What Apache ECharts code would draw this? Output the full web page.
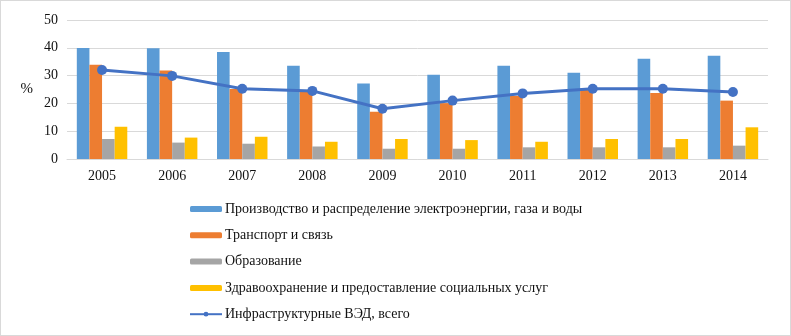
<!DOCTYPE html>
<html>
<head>
<meta charset="utf-8">
<script src="https://cdn.jsdelivr.net/npm/echarts@6/dist/echarts.min.js"></script>
<style>
    html, body { margin: 0; padding: 0; background: #fff; }
    #chart { width: 791px; height: 336px; box-sizing: border-box; border: 1px solid #d9d9d9; }
</style>
</head>
<body>
<div id="chart"></div>
<script>
var years = ['2005', '2006', '2007', '2008', '2009', '2010', '2011', '2012', '2013', '2014'];
var energy = [39.9, 39.8, 38.5, 33.5, 27.2, 30.3, 33.5, 31.0, 36.1, 37.1];
var transport = [33.9, 31.8, 25.2, 24.1, 17.0, 20.1, 22.7, 25.2, 23.7, 21.0];
var education = [7.2, 5.9, 5.5, 4.5, 3.7, 3.7, 4.2, 4.2, 4.2, 4.8];
var health = [11.6, 7.7, 8.0, 6.2, 7.2, 6.8, 6.2, 7.2, 7.2, 11.4];
var total = [32.0, 29.9, 25.3, 24.5, 18.1, 21.0, 23.6, 25.3, 25.3, 24.1];

var names = [
    'Производство и распределение электроэнергии, газа и воды',
    'Транспорт и связь',
    'Образование',
    'Здравоохранение и предоставление социальных услуг',
    'Инфраструктурные ВЭД, всего'
];

var serif = '"Liberation Serif", "DejaVu Serif", serif';
var chart = echarts.init(document.getElementById('chart'));

function bar(name, data, color) {
    return {
        name: name,
        type: 'bar',
        data: data,
        barGap: '0%',
        barCategoryGap: '28%',
        itemStyle: { color: color },
        emphasis: { disabled: true }
    };
}

var option = {
    animation: false,
    textStyle: { fontFamily: serif },
    grid: { left: 66, right: 22, top: 19, bottom: 176 },
    legend: {
        orient: 'vertical',
        left: 183,
        top: 195,
        itemWidth: 32,
        itemHeight: 6,
        itemGap: 10.3,
        data: names,
        textStyle: { fontFamily: serif, fontSize: 14, color: '#111', lineHeight: 16, padding: [0, 0, 0, -2] }
    },
    xAxis: {
        type: 'category',
        data: years,
        axisLine: { lineStyle: { color: '#d9d9d9' } },
        axisTick: { show: false },
        axisLabel: { fontFamily: serif, fontSize: 14, color: '#111', margin: 10 }
    },
    yAxis: {
        type: 'value',
        min: 0,
        max: 50,
        interval: 10,
        name: '%',
        nameLocation: 'middle',
        nameRotate: 0,
        nameGap: 34,
        nameTextStyle: { fontFamily: serif, fontSize: 15, color: '#111' },
        axisLine: { show: false },
        axisTick: { show: false },
        splitLine: { lineStyle: { color: '#d9d9d9' } },
        axisLabel: { fontFamily: serif, fontSize: 14, color: '#111', margin: 9 }
    },
    series: [
        bar(names[0], energy, '#5B9BD5'),
        bar(names[1], transport, '#ED7D31'),
        bar(names[2], education, '#A5A5A5'),
        bar(names[3], health, '#FFC000'),
        {
            name: names[4],
            type: 'line',
            data: total,
            symbol: 'circle',
            symbolSize: 10,
            lineStyle: { color: '#4472C4', width: 3 },
            itemStyle: { color: '#4472C4' },
            emphasis: { disabled: true }
        }
    ]
};
chart.setOption(option);
</script>
</body>
</html>
